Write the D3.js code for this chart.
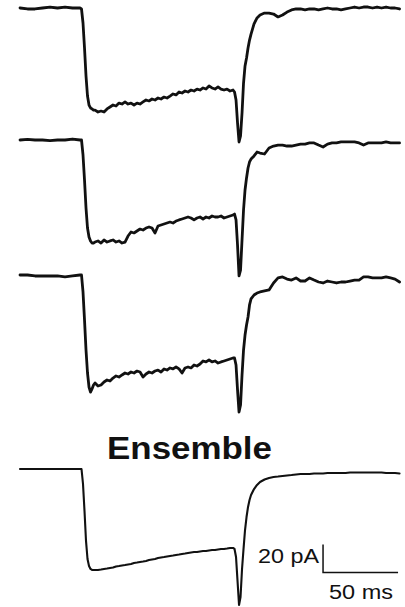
<!DOCTYPE html>
<html>
<head>
<meta charset="utf-8">
<script src="https://cdn.jsdelivr.net/npm/d3@7"></script>
<style>
  body { margin: 0; background: #fff; }
  svg { display: block; }
  text { font-family: "Liberation Sans", Arial, Helvetica, sans-serif; fill: #111; }
</style>
</head>
<body>
<div id="chart"></div>
<script>
// sample times (ms) shared by all sweeps
var timeMs = [0,5,10,15,20,25,30,35,40,41,
  42,43,44,45,46,47,48,49,
  50,52,54,56,58,60,62,64,66,68,70,72,74,76,78,80,82,84,86,88,90,92,94,96,98,100,
  102,104,106,108,110,112,114,116,118,120,122,124,126,128,130,132,134,136,138,140,142,
  143,144,145,146,147,148,149,150,151,152,153,154,156,158,160,163,166,169,
  172,175,178,181,184,187,190,193,196,199,202,205,208,211,214,217,220,223,226,229,232,235,238,241,244,247,250,253];

// current (pA, relative to holding level) for each sweep
var sweep1 = [0,-0.7,-0.7,0,0.7,0,0.7,0,0,-0.7,
  -10.7,-28.6,-48.6,-62.9,-69.3,-71.4,-72.1,-72.9,
  -72.9,-74.3,-73.6,-74.3,-72.1,-70.7,-69.3,-70,-67.9,-68.6,-67.1,-68.6,-67.9,-69.3,-67.9,-68.6,-67.1,-65.7,-66.4,-65,-65.7,-64.3,-65,-63.6,
  -64.3,-62.9,-61.4,-62.1,-60,-60.7,-59.3,-60,-58.6,-59.3,-57.9,-58.6,-57.1,-57.9,-55.7,-57.1,-57.9,-56.4,-57.9,-58.6,-57.9,-59.3,-58.6,
  -60,-65.7,-82.1,-95.7,-91.4,-75,-53.6,-41.4,-35.7,-28.6,-22.9,-18.6,-11.4,-7.1,-5,-3.6,-3.6,-4.3,
  -6.4,-5,-2.9,-1.4,-0.7,-0.7,-1.4,-0.7,-0.7,-1.4,-0.7,0,-0.7,-0.7,-1.4,-0.7,0,0.7,0,0.7,0.7,0,0.7,0,0.7,0,0,-0.7];

var sweep2 = [0,0.4,0,0,-0.4,0,0,0.7,0,0,
  -10.7,-28.6,-48.6,-62.9,-69.3,-72.1,-73.6,-73.6,
  -72.9,-72.1,-73.6,-71.4,-72.9,-72.1,-71.4,-72.9,-72.1,-73.6,-72.9,-68.6,-65.7,-66.4,-65,-63.6,-64.3,-62.9,-62.1,-62.9,-66.4,-61.4,-60.7,-60,
  -59.3,-58.6,-59.3,-57.9,-57.1,-56.4,-55.7,-55,-55.7,-57.1,-55.7,-55,-56.4,-55,-55.7,-54.3,-55,-55,-54.3,-55.7,-55,-54.3,-53.6,
  -52.9,-57.1,-75,-97.1,-92.9,-71.4,-50,-35.7,-27.1,-20,-15.7,-13.6,-11.4,-8.6,-9.3,-10,-5.7,-4.3,
  -3.6,-3.6,-4.3,-4.3,-3.6,-2.9,-2.9,-2.1,-2.1,-3.6,-5,-2.9,-2.1,-2.1,-1.4,-1.4,-1.4,-1.4,-2.1,-3.6,-2.1,-2.1,-2.1,-2.1,-1.4,-2.1,-2.1,-2.1];

var sweep3 = [0,0,-0.7,-0.7,-0.7,-0.7,-1.4,-0.7,0,0,
  -12.1,-32.1,-53.6,-70,-80,-83.6,-81.4,-78.6,
  -77.1,-79.3,-78.6,-76.4,-75,-75.7,-73.6,-72.1,-72.9,-71.4,-70,-70.7,-69.3,-70,-68.6,-69.3,-72.9,-70.7,-69.3,-70,-68.6,-67.9,-69.3,-67.1,
  -67.9,-66.4,-67.1,-65.7,-67.1,-70,-66.4,-65.7,-66.4,-64.3,-65,-63.6,-61.4,-62.1,-60.7,-62.1,-61.4,-62.9,-62.1,-61.4,-60.7,-60,-59.3,
  -59.3,-64.3,-82.1,-97.9,-92.9,-71.4,-53.6,-42.9,-35.7,-30,-21.4,-17.1,-14.3,-12.9,-12.1,-11.4,-10.7,-5.7,
  -2.1,-1.4,-2.9,-3.6,-2.1,-4.3,-4.3,-2.1,-3.6,-5,-5.7,-4.3,-5,-5.7,-5,-5,-4.3,-3.6,-3.6,-1.4,-1.4,-2.1,-2.1,-2.1,-1.4,-2.1,-2.9,-5];

var ensemble = [0,0,0,0,0,0,0,0,0,0,
  -10.7,-30,-51.4,-64.3,-69.3,-71.4,-72.1,-72.1,
  -72.1,-72.1,-71.8,-71.4,-71.1,-70.7,-70.4,-69.6,-69.3,-68.9,-68.6,-68.2,-67.9,-67.1,-66.8,-66.4,-66.1,-65.7,-65,-64.6,-64.3,-63.6,-63.2,-62.9,
  -62.5,-62.1,-61.8,-61.4,-61.1,-60.7,-60.4,-60,-59.6,-59.3,-59.3,-58.9,-58.6,-58.6,-58.2,-57.9,-57.9,-57.5,-57.1,-57.1,-56.8,-56.4,-56.4,
  -57.1,-62.9,-80,-97.1,-91.4,-71.4,-57.1,-43.6,-34.3,-27.1,-22.1,-18.6,-14.3,-11.4,-9.3,-7.5,-6.4,-5.7,
  -5.4,-5,-4.6,-4.3,-3.9,-3.6,-3.6,-3.6,-3.2,-3.2,-3.2,-2.9,-2.9,-2.9,-2.9,-2.9,-2.5,-2.5,-2.5,-2.5,-2.5,-2.5,-2.5,-2.5,-2.9,-2.9,-2.9,-3.2];

// scale bar values
var barTimeStart = 202;   // ms
var barTimeLen = 50;      // ms
var barCurrentTop = -54;  // pA (ensemble panel)
var barCurrentLen = 20;   // pA

// Variables
var chart_width = 405;
var chart_height = 607;
var panel_top = [8, 140, 275, 469];

var svg = d3.select("#chart")
  .append("svg")
  .attr("width", chart_width)
  .attr("height", chart_height);

// Scales: 50 ms = 75 px, 20 pA = 28 px
var x_scale = d3.scaleLinear()
  .domain([0, 253.3])
  .range([20, 400]);

function y_scale_for(top){
  return d3.scaleLinear()
    .domain([0, -100])
    .range([top, top + 140]);
}

var traces = [
  { values: sweep1, width: 2.8 },
  { values: sweep2, width: 2.8 },
  { values: sweep3, width: 2.8 },
  { values: ensemble, width: 2.1 }
];

traces.forEach(function(tr, k){
  var y_scale = y_scale_for(panel_top[k]);
  var line = d3.line()
    .x(function(d, i){ return x_scale(timeMs[i]); })
    .y(function(d){ return y_scale(d); });
  svg.append("path")
    .datum(tr.values)
    .attr("fill", "none")
    .attr("stroke", "#111")
    .attr("stroke-width", tr.width)
    .attr("stroke-linejoin", "round")
    .attr("stroke-linecap", "round")
    .attr("d", line);
});

// Title of the averaged trace
svg.append("text")
  .attr("x", 107)
  .attr("y", 459)
  .attr("font-size", 32)
  .attr("font-weight", "bold")
  .attr("textLength", 165)
  .attr("lengthAdjust", "spacingAndGlyphs")
  .text("Ensemble");

// Scale bar
var ens_y = y_scale_for(panel_top[3]);
var bx0 = x_scale(barTimeStart), bx1 = x_scale(barTimeStart + barTimeLen);
var by0 = ens_y(barCurrentTop), by1 = ens_y(barCurrentTop - barCurrentLen);

svg.append("path")
  .attr("d", "M" + bx0 + "," + by0 + "V" + by1 + "H" + bx1)
  .attr("fill", "none")
  .attr("stroke", "#111")
  .attr("stroke-width", 1.5);

svg.append("text")
  .attr("x", bx0 - 65)
  .attr("y", 563)
  .attr("font-size", 20)
  .attr("textLength", 61)
  .attr("lengthAdjust", "spacingAndGlyphs")
  .text(barCurrentLen + " pA");

svg.append("text")
  .attr("x", 329)
  .attr("y", 599)
  .attr("font-size", 20)
  .attr("textLength", 64)
  .attr("lengthAdjust", "spacingAndGlyphs")
  .text(barTimeLen + " ms");
</script>
</body>
</html>
